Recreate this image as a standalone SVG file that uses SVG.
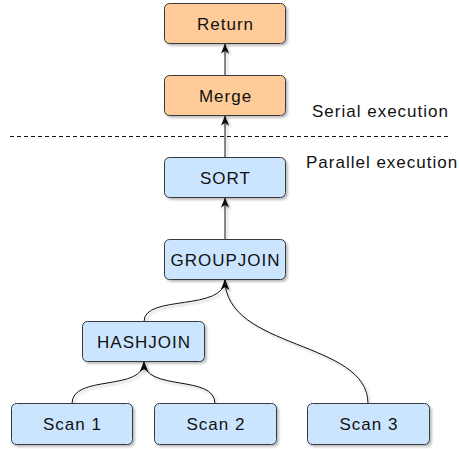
<svg xmlns="http://www.w3.org/2000/svg" width="459" height="449" viewBox="0 0 459 449">
<style>
.box{stroke:#36393d;stroke-width:1;filter:url(#sh)}
.or{fill:#ffcc99}
.bl{fill:#cce5ff}
.lbl{font-family:"Liberation Sans",Arial,sans-serif;font-size:17px;letter-spacing:1px;fill:#111;text-anchor:middle}
.note{font-family:"Liberation Sans",Arial,sans-serif;font-size:17px;letter-spacing:1px;fill:#111}
.edge{fill:none;stroke:#111;stroke-width:1;marker-end:url(#arr)}
</style>
<defs>
<filter id="sh" x="-10%" y="-10%" width="130%" height="140%">
<feDropShadow dx="2" dy="2" stdDeviation="0.8" flood-color="#000" flood-opacity="0.25"/>
</filter>
<marker id="arr" viewBox="0 0 10 10" refX="10" refY="5" markerWidth="10" markerHeight="10" markerUnits="userSpaceOnUse" orient="auto">
<path d="M0,1 L10,5 L0,9 L2.5,5 Z" fill="#111"/>
</marker>
</defs>
<line x1="10" y1="136.5" x2="450" y2="136.5" stroke="#111" stroke-width="1" stroke-dasharray="4 3"/>
<text class="note" x="312" y="117">Serial execution</text>
<text class="note" x="306" y="168">Parallel execution</text>
<g id="connectors" filter="url(#sh)">
<path class="edge" d="M225,75.5 L225,43.5"/>
<path class="edge" d="M225,157.5 L225,115.5"/>
<path class="edge" d="M225,239.5 L225,197.5"/>
<path class="edge" d="M144,321.5 C144,294 225,312 225,279.5"/>
<path class="edge" d="M368,403.5 C368,340 225,350 225,279.5"/>
<path class="edge" d="M72,403.5 C72,374 144,392 144,361.5"/>
<path class="edge" d="M215,403.5 C215,374 144,392 144,361.5"/>
</g>
<g id="node-return"><rect class="box or" x="164.5" y="3.5" width="121" height="40" rx="5"/><text class="lbl" x="225.5" y="30">Return</text></g>
<g id="node-merge"><rect class="box or" x="164.5" y="75.5" width="121" height="40" rx="5"/><text class="lbl" x="225.5" y="102">Merge</text></g>
<g id="node-sort"><rect class="box bl" x="164.5" y="157.5" width="121" height="40" rx="5"/><text class="lbl" x="225.5" y="184">SORT</text></g>
<g id="node-groupjoin"><rect class="box bl" x="164.5" y="239.5" width="121" height="40" rx="5"/><text class="lbl" x="225.5" y="266">GROUPJOIN</text></g>
<g id="node-hashjoin"><rect class="box bl" x="82.5" y="321.5" width="122" height="40" rx="5"/><text class="lbl" x="144" y="348">HASHJOIN</text></g>
<g id="node-scan1"><rect class="box bl" x="11.5" y="403.5" width="121" height="41" rx="5"/><text class="lbl" x="72.5" y="430">Scan 1</text></g>
<g id="node-scan2"><rect class="box bl" x="154.5" y="403.5" width="122" height="41" rx="5"/><text class="lbl" x="216" y="430">Scan 2</text></g>
<g id="node-scan3"><rect class="box bl" x="307.5" y="403.5" width="122" height="41" rx="5"/><text class="lbl" x="369" y="430">Scan 3</text></g>
</svg>
